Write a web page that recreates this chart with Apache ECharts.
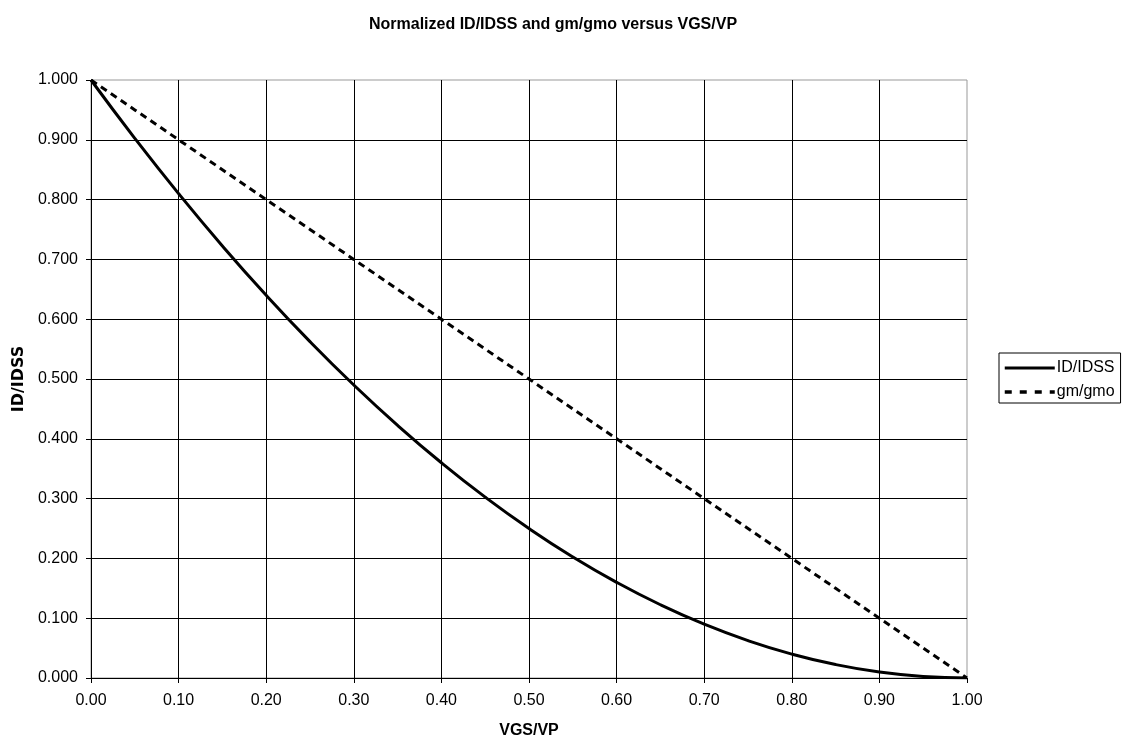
<!DOCTYPE html>
<html><head><meta charset="utf-8">
<script src="https://cdn.jsdelivr.net/npm/echarts@6/dist/echarts.min.js"></script>
<style>html,body{margin:0;padding:0;background:#fff}#c{width:1127px;height:744px}</style>
</head><body><div id="c"></div>
<script>
const xValues = [0,0.05,0.10,0.15,0.20,0.25,0.30,0.35,0.40,0.45,0.50,0.55,0.60,0.65,0.70,0.75,0.80,0.85,0.90,0.95,1.00];
const idIdss = [1.000,0.9025,0.810,0.7225,0.640,0.5625,0.490,0.4225,0.360,0.3025,0.250,0.2025,0.160,0.1225,0.090,0.0625,0.040,0.0225,0.010,0.0025,0.000];
const gmGmo = [1.000,0.950,0.900,0.850,0.800,0.750,0.700,0.650,0.600,0.550,0.500,0.450,0.400,0.350,0.300,0.250,0.200,0.150,0.100,0.050,0.000];
const seriesNames = ['ID/IDSS','gm/gmo'];
const font = 'Arial, "Liberation Sans", sans-serif';
const chart = echarts.init(document.getElementById('c'));
chart.setOption({
  animation:false,
  backgroundColor:'#fff',
  title:{text:'Normalized ID/IDSS and gm/gmo versus VGS/VP',left:548,top:12,textAlign:'center',
    textStyle:{fontFamily:font,fontSize:16,fontWeight:'bold',color:'#000'}},
  grid:{left:91,right:160,top:80,bottom:64,show:true,borderColor:'#999',borderWidth:1,backgroundColor:'#fff'},
  legend:{orient:'vertical',left:999,top:353,padding:[7,6,3,4],itemGap:8,itemWidth:50,itemHeight:12,
    borderColor:'#000',borderWidth:1,
    itemStyle:{opacity:0},
    lineStyle:{width:3},
    textStyle:{fontFamily:font,fontSize:16,color:'#000',padding:[0,0,0,-3]},
    data:[{name:seriesNames[0],lineStyle:{width:3,type:'solid'}},
          {name:seriesNames[1],lineStyle:{width:3.5,type:[7,8]}}]},
  xAxis:{type:'value',min:0,max:1,interval:0.1,name:'VGS/VP',nameLocation:'middle',nameGap:45,
    nameTextStyle:{fontFamily:font,fontSize:16,fontWeight:'bold',color:'#000'},
    axisLine:{lineStyle:{color:'#000',width:1}},axisTick:{show:true,length:5,lineStyle:{color:'#000'}},
    axisLabel:{fontFamily:font,fontSize:16,color:'#000',margin:15,formatter:v=>v.toFixed(2)},
    splitLine:{show:true,showMinLine:false,showMaxLine:false,lineStyle:{color:'#000',width:1}}},
  yAxis:{type:'value',min:0,max:1,interval:0.1,name:'ID/IDSS',nameLocation:'middle',nameGap:62,
    nameTextStyle:{fontFamily:'"DejaVu Sans", sans-serif',fontSize:16,fontWeight:'bold',color:'#000'},
    axisLine:{show:true,lineStyle:{color:'#000',width:1}},axisTick:{show:true,length:5,lineStyle:{color:'#000'}},
    axisLabel:{fontFamily:font,fontSize:16,color:'#000',margin:13,formatter:v=>v.toFixed(3)},
    splitLine:{show:true,showMinLine:false,showMaxLine:false,lineStyle:{color:'#000',width:1}}},
  series:[
    {name:seriesNames[0],type:'line',smooth:true,showSymbol:false,symbol:'none',
     data:xValues.map((x,i)=>[x,idIdss[i]]),lineStyle:{color:'#000',width:3},itemStyle:{color:'#000'}},
    {name:seriesNames[1],type:'line',showSymbol:false,symbol:'none',
     data:xValues.map((x,i)=>[x,gmGmo[i]]),lineStyle:{color:'#000',width:3,type:[7,5]},itemStyle:{color:'#000'}}
  ]
});
</script></body></html>
